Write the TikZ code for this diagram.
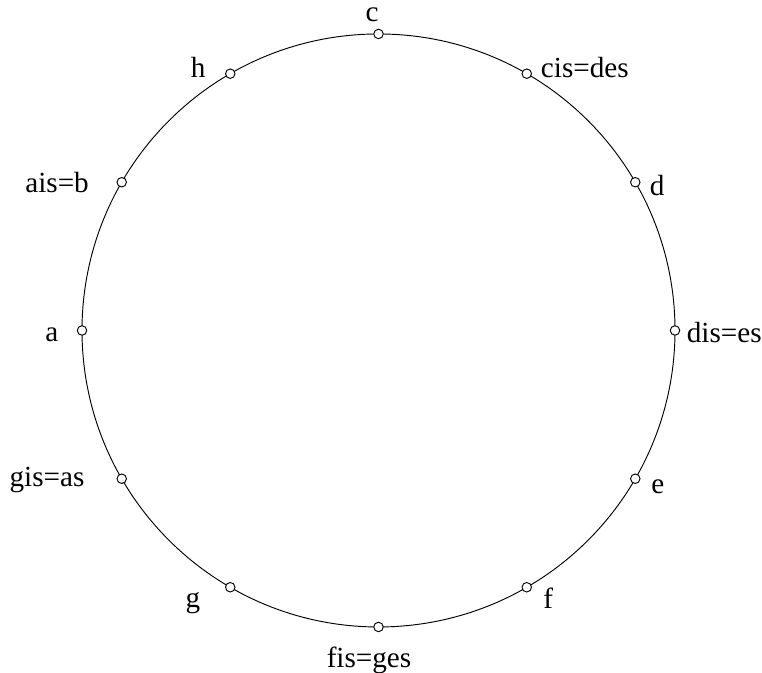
\documentclass[tikz,border=0pt]{standalone}
\usepackage{fontspec}
\setmainfont{Liberation Serif}

\newcommand*{\radius}{5}

\begin{document}
\begin{tikzpicture}
[
	tonept/.style={circle,draw,fill=white,inner sep=0pt,minimum size=0.16cm,line width=0.45pt},
	tonelabel/.style={font=\fontsize{14}{16}\selectfont,inner sep=0pt},
]
	\useasboundingbox (-6.383,-5.776) rectangle (6.467,5.573);

	% circle
	\draw[line width=0.45pt] (0,0) circle (\radius);

	% tones
	\foreach \i in {0,...,11}
		\node[tonept] (t\i) at ({90-30*\i}:\radius) {};

	% labels
	\node[tonelabel] (lc) at (-0.11,5.32) {c};
	\node[tonelabel] (lcis) at (3.48,4.43) {cis=des};
	\node[tonelabel] (ld) at (4.70,2.45) {d};
	\node[tonelabel] (ldis) at (5.83,-0.04) {dis=es};
	\node[tonelabel] (le) at (4.71,-2.64) {e};
	\node[tonelabel] (lf) at (2.86,-4.51) {f};
	\node[tonelabel] (lfis) at (-0.16,-5.56) {fis=ges};
	\node[tonelabel] (lg) at (-3.13,-4.60) {g};
	\node[tonelabel] (lgis) at (-5.59,-2.52) {gis=as};
	\node[tonelabel] (la) at (-5.51,-0.08) {a};
	\node[tonelabel] (lais) at (-5.42,2.50) {ais=b};
	\node[tonelabel] (lh) at (-3.04,4.43) {h};

\end{tikzpicture}
\end{document}
